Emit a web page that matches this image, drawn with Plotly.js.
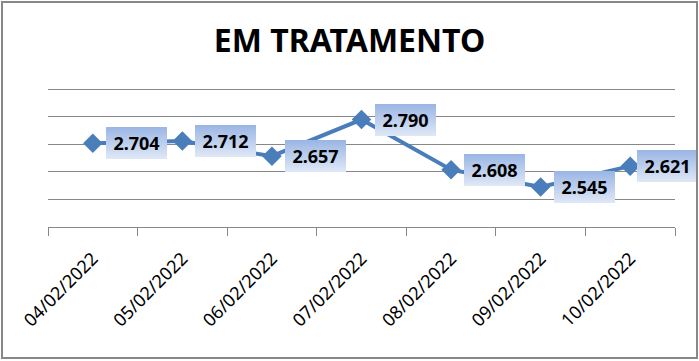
<!DOCTYPE html>
<html>
<head>
<meta charset="utf-8">
<script src="https://cdn.plot.ly/plotly-3.0.1.min.js"></script>
<style>
  html, body { margin: 0; padding: 0; background: #ffffff; }
  #wrap { position: relative; width: 699px; height: 361px; }
  #chart { width: 699px; height: 361px; }
  #frame { position: absolute; left: 1px; top: 1px; width: 693px; height: 354px;
           border: 2px solid #888888; pointer-events: none; }
</style>
</head>
<body>
<div id="wrap">
  <div id="chart"></div>
  <div id="frame"></div>
</div>
<script>
const dates = ["04/02/2022", "05/02/2022", "06/02/2022", "07/02/2022", "08/02/2022", "09/02/2022", "10/02/2022"];
const values = [2.704, 2.712, 2.657, 2.790, 2.608, 2.545, 2.621];
const valueLabels = ["2.704", "2.712", "2.657", "2.790", "2.608", "2.545", "2.621"];
const labelShift = [13, 13, 13, 13, 13, 13, 7];

const trace = {
  x: dates,
  y: values,
  type: "scatter",
  mode: "lines+markers",
  line: { color: "#4a7ebb", width: 4 },
  marker: { symbol: "diamond", size: 15, color: "#4a7ebb" },
  hoverinfo: "skip"
};

const annotations = dates.map((d, i) => ({
  x: d, y: values[i], xref: "x", yref: "y",
  text: "<b>" + valueLabels[i] + "</b>",
  showarrow: false,
  xanchor: "left", yanchor: "middle",
  xshift: labelShift[i],
  width: 61, height: 32,
  borderpad: 0, borderwidth: 0,
  bgcolor: "#bccfee",
  font: { family: "Noto Sans, sans-serif", size: 18, color: "#000000" }
}));

const layout = {
  width: 699, height: 361,
  margin: { l: 48, r: 24, t: 87, b: 134 },
  paper_bgcolor: "#ffffff",
  plot_bgcolor: "#ffffff",
  showlegend: false,
  title: {
    text: "<b>EM TRATAMENTO</b>",
    font: { family: "Noto Sans, sans-serif", size: 32, color: "#000000" },
    x: 0.5, xanchor: "center",
    y: 1 - 41 / 361, yanchor: "middle", yref: "container"
  },
  xaxis: {
    type: "category",
    range: [-0.5, 6.5],
    showgrid: false,
    showline: true, linecolor: "#888888", linewidth: 1,
    ticks: "outside", ticklen: 8, tickcolor: "#888888", tickwidth: 1,
    tickson: "boundaries",
    tickangle: -45,
    ticklabelstandoff: 13,
    tickfont: { family: "Noto Sans, sans-serif", size: 18, color: "#000000" },
    zeroline: false, fixedrange: true
  },
  yaxis: {
    range: [2.4, 2.9083],
    dtick: 0.1, tick0: 2.4,
    showticklabels: false,
    showgrid: true, gridcolor: "#888888", gridwidth: 1,
    showline: false, zeroline: false, ticks: "", fixedrange: true
  },
  annotations: annotations
};

Plotly.newPlot("chart", [trace], layout, { displayModeBar: false, staticPlot: true }).then(() => {
  const svgNS = "http://www.w3.org/2000/svg";
  const svgs = document.querySelectorAll("#chart svg.main-svg");
  svgs.forEach((svg, k) => {
    const defs = document.createElementNS(svgNS, "defs");
    const grad = document.createElementNS(svgNS, "linearGradient");
    grad.setAttribute("id", "lblgrad" + k);
    grad.setAttribute("x1", "0"); grad.setAttribute("y1", "0");
    grad.setAttribute("x2", "0"); grad.setAttribute("y2", "1");
    [["0", "#9ab5e4"], ["1", "#dfe8f6"]].forEach(([o, c]) => {
      const s = document.createElementNS(svgNS, "stop");
      s.setAttribute("offset", o); s.setAttribute("stop-color", c);
      grad.appendChild(s);
    });
    defs.appendChild(grad);
    svg.insertBefore(defs, svg.firstChild);
    svg.querySelectorAll(".annotation rect.bg").forEach(r => {
      r.style.fill = "url(#lblgrad" + k + ")";
    });
  });
});
</script>
</body>
</html>
